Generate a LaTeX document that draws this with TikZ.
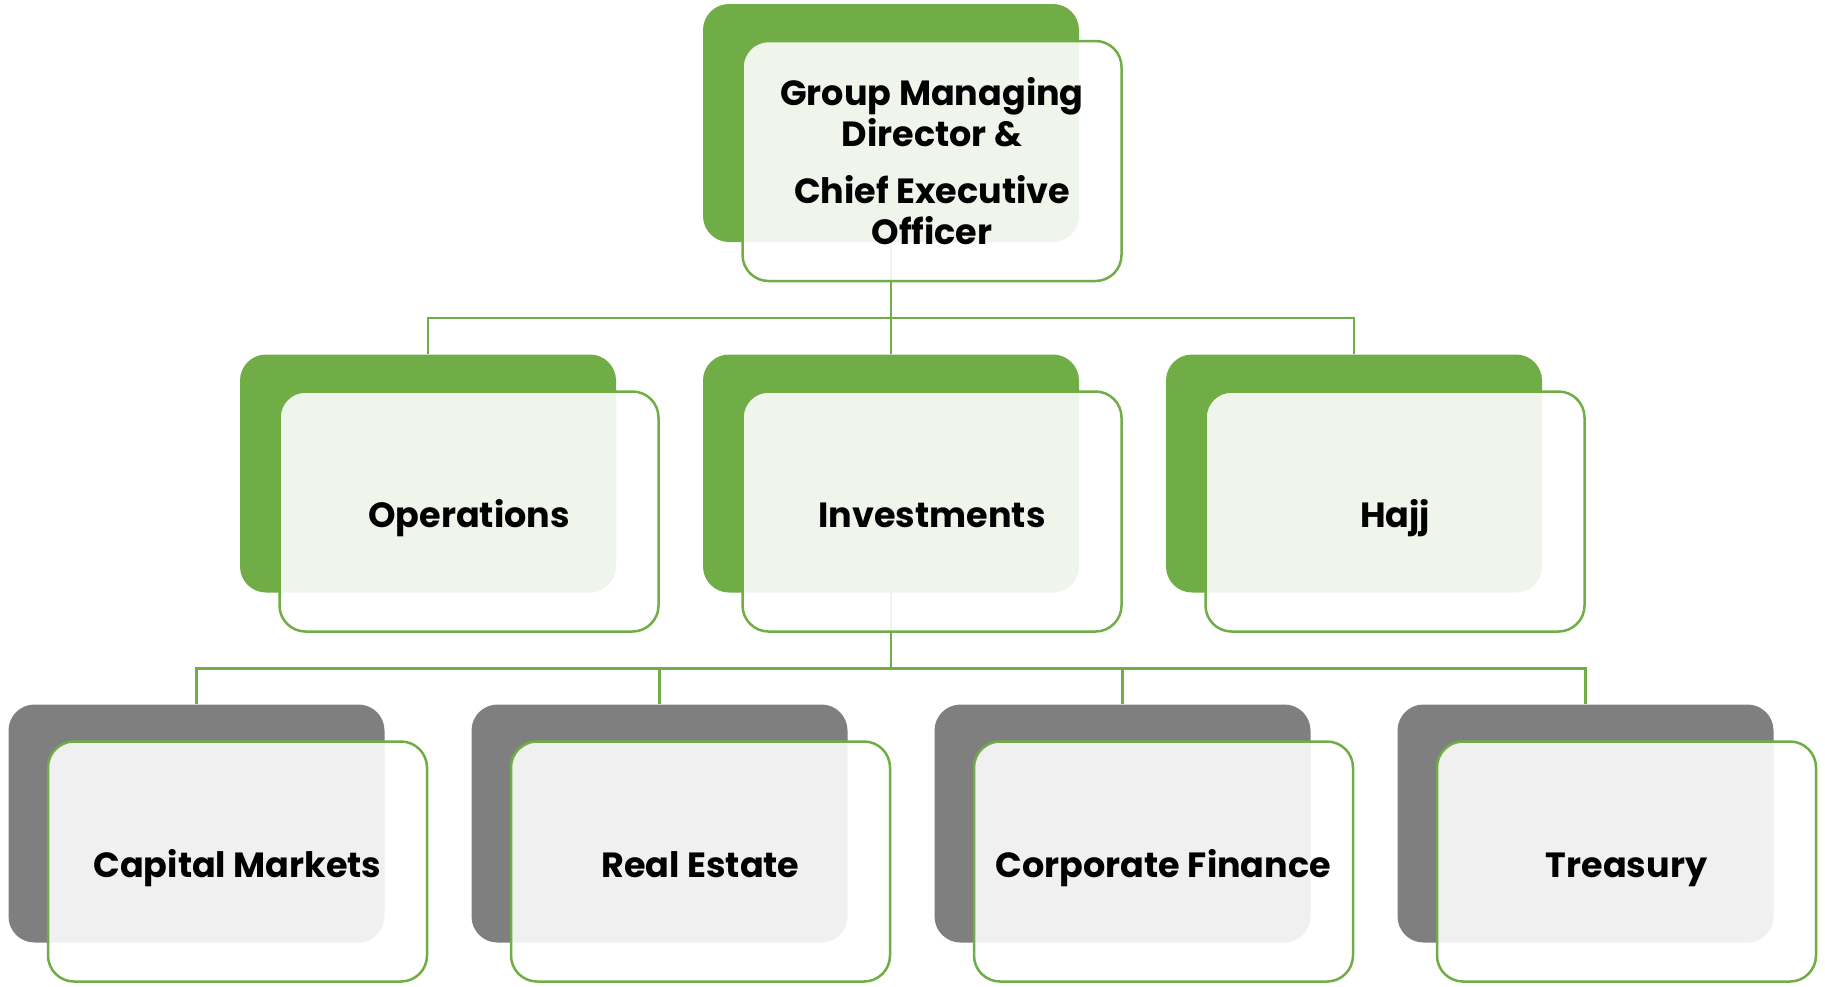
\documentclass[tikz,border=0pt]{standalone}
\usepackage{fontspec}
\setmainfont{Poppins}
\usepackage{tikz}
\usetikzlibrary{shapes, arrows}
\definecolor{boxgreen}{HTML}{70AD47}
\definecolor{boxgray}{HTML}{7F7F7F}
\tikzstyle{back} = [rectangle, rounded corners=26pt, minimum width=376pt,
    minimum height=238pt, inner sep=0pt]
\tikzstyle{backgreen} = [back, fill=boxgreen]
\tikzstyle{backgray} = [back, fill=boxgray]
\tikzstyle{front} = [rectangle, draw=boxgreen, line width=2.5pt, fill=white,
    fill opacity=0.89, text opacity=1, rounded corners=26pt,
    minimum width=379pt, minimum height=240pt, inner sep=0pt,
    text height=31pt, text depth=0pt,
    align=center, xshift=41pt, yshift=-38pt,
    font=\fontsize{35}{41}\selectfont\bfseries]
\tikzstyle{line} = [draw=boxgreen, line width=2.5pt]

\begin{document}
\begin{tikzpicture}[x=1pt, y=1pt, node distance = 463pt]
        \useasboundingbox (0,0) rectangle (1825,-986);
        % Place back cards
        \node [backgreen] (ceoback) at (891,-123) {};
        \node [backgreen, below of=ceoback, node distance=350.5pt] (invback) {};
        \node [backgreen, left of=invback] (opsback) {};
        \node [backgreen, right of=invback] (hajjback) {};
        \node [backgray, below of=opsback, node distance=350pt, xshift=-231.5pt] (capback) {};
        \node [backgray, right of=capback] (realback) {};
        \node [backgray, right of=realback] (corpback) {};
        \node [backgray, right of=corpback] (treasback) {};
        % Draw edges
        \path [line] (ceoback.south) -- ++(0,-76) -| (opsback.north);
        \path [line] (ceoback.south) -- ++(0,-76) -| (invback.north);
        \path [line] (ceoback.south) -- ++(0,-76) -| (hajjback.north);
        \path [line] (invback.south) -- ++(0,-76) -| (capback.north);
        \path [line] (invback.south) -- ++(0,-76) -| (realback.north);
        \path [line] (invback.south) -- ++(0,-76) -| (corpback.north);
        \path [line] (invback.south) -- ++(0,-76) -| (treasback.north);
        % Front cards with the titles
        \node [front, text height=, text depth=] (ceo) at (ceoback) {Group Managing\\Director \&\\[16pt]
            Chief Executive\\Officer};
        \node [front] (ops) at (opsback) {Operations};
        \node [front] (inv) at (invback) {Investments};
        \node [front] (hajj) at (hajjback) {Hajj};
        \node [front] (cap) at (capback) {Capital Markets};
        \node [front] (real) at (realback) {Real Estate};
        \node [front] (corp) at (corpback) {Corporate Finance};
        \node [front] (treas) at (treasback) {Treasury};
    \end{tikzpicture}
\end{document}
